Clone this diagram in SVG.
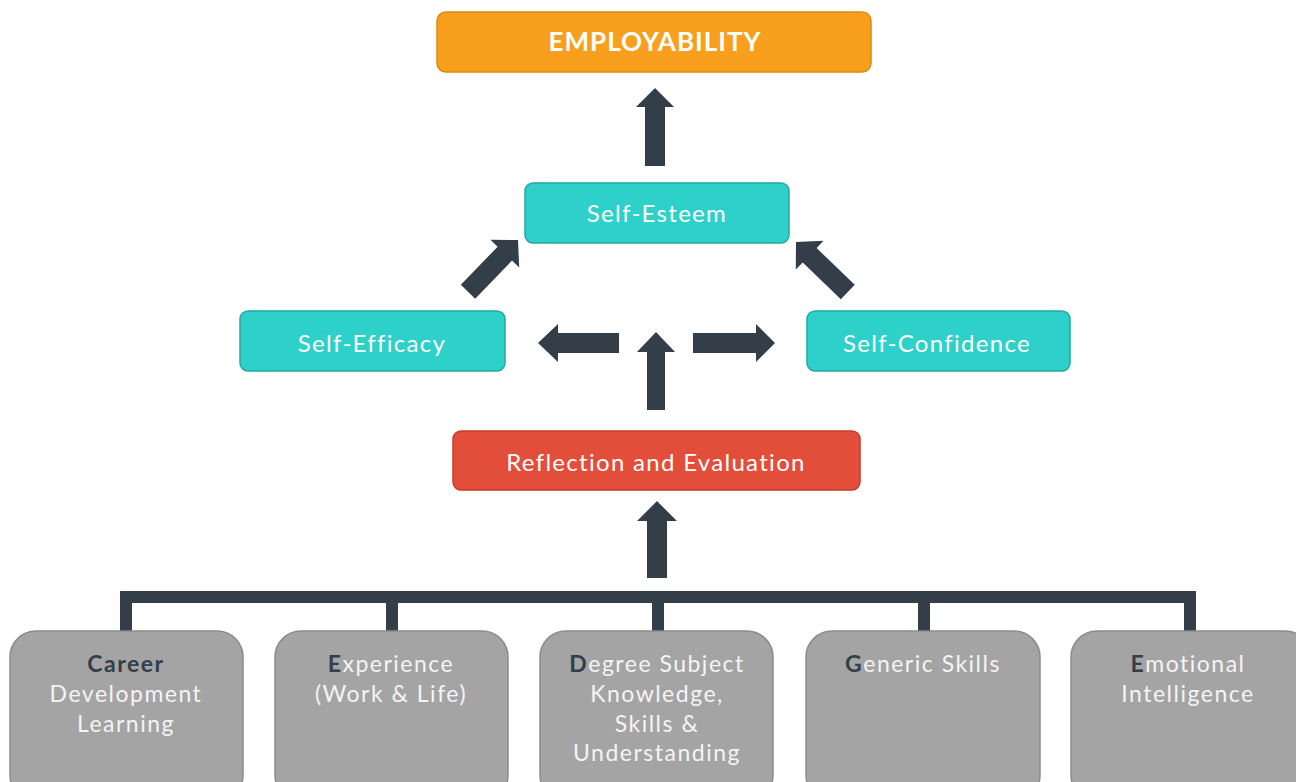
<svg xmlns="http://www.w3.org/2000/svg" width="1296" height="782" viewBox="0 0 1296 782">
<style>
.t{font-family:Lato,"Open Sans","Liberation Sans",sans-serif;fill:#FFFFFF;text-anchor:middle}
.m{font-size:24px;letter-spacing:1.3px}
.s{font-size:23px;letter-spacing:1.5px;fill:#F4F4F4}
.teal{fill:#2DD1C9;stroke:#22A9A2;stroke-width:1.5}
.grey{fill:#A4A4A4;stroke:#8C8C8C;stroke-width:1.5}
.dk{fill:#333E48}
.b{fill:#333E48;font-weight:bold}
</style>
<rect width="1296" height="782" fill="#FFFFFF"/>

<g id="employability">
<rect x="437" y="12" width="434" height="60" rx="9" fill="#F89F1E" stroke="#DC8A12" stroke-width="1.5"/>
<text class="t" x="655" y="51" font-size="26" font-weight="bold" letter-spacing="1">EMPLOYABILITY</text>
</g>

<g id="self-esteem">
<rect class="teal" x="525" y="183" width="264" height="60" rx="8"/>
<text class="t m" x="657" y="222">Self-Esteem</text>
</g>

<g id="self-efficacy">
<rect class="teal" x="240" y="311" width="265" height="60" rx="8"/>
<text class="t m" x="372" y="352">Self-Efficacy</text>
</g>

<g id="self-confidence">
<rect class="teal" x="807" y="311" width="263" height="60" rx="8"/>
<text class="t m" x="937" y="352">Self-Confidence</text>
</g>

<g id="reflection">
<rect x="453" y="431" width="407" height="59" rx="8" fill="#E24E39" stroke="#C43D2B" stroke-width="1.5"/>
<text class="t m" x="656" y="471">Reflection and Evaluation</text>
</g>

<g id="connectors">
<path class="dk" d="M655,88 L674,107 L665,107 L665,166 L645,166 L645,107 L636,107 Z"/>
<path class="dk" d="M0,0 L20,19 L10,19 L10,72 L-10,72 L-10,19 L-20,19 Z" transform="translate(518,240) rotate(44)"/>
<path class="dk" d="M0,0 L20,19 L10,19 L10,72 L-10,72 L-10,19 L-20,19 Z" transform="translate(796,242) rotate(-46)"/>
<path class="dk" d="M656,332 L675,352 L665,352 L665,410 L647,410 L647,352 L637,352 Z"/>
<path class="dk" d="M538,343 L558,324 L558,333 L619,333 L619,353 L558,353 L558,362 Z"/>
<path class="dk" d="M775,343 L756,324 L756,333 L693,333 L693,353 L756,353 L756,362 Z"/>
<path class="dk" d="M657,501 L677,521 L667,521 L667,578 L647,578 L647,521 L637,521 Z"/>
<rect class="dk" x="120" y="591" width="1076" height="12"/>
<rect class="dk" x="120" y="591" width="12" height="40"/>
<rect class="dk" x="386" y="591" width="12" height="40"/>
<rect class="dk" x="652" y="591" width="12" height="40"/>
<rect class="dk" x="918" y="591" width="12" height="40"/>
<rect class="dk" x="1184" y="591" width="12" height="40"/>
</g>

<g id="career">
<rect class="grey" x="10" y="631" width="233" height="170" rx="26"/>
<text class="t s"><tspan x="126" y="672" class="b">Career</tspan><tspan x="126" y="702">Development</tspan><tspan x="126" y="732">Learning</tspan></text>
</g>

<g id="experience">
<rect class="grey" x="275" y="631" width="233" height="170" rx="26"/>
<text class="t s"><tspan x="391" y="672"><tspan class="b">E</tspan>xperience</tspan><tspan x="391" y="702">(Work &amp; Life)</tspan></text>
</g>

<g id="degree">
<rect class="grey" x="540" y="631" width="233" height="170" rx="26"/>
<text class="t s"><tspan x="657" y="672"><tspan class="b">D</tspan>egree Subject</tspan><tspan x="657" y="702">Knowledge,</tspan><tspan x="657" y="732">Skills &amp;</tspan><tspan x="657" y="761">Understanding</tspan></text>
</g>

<g id="generic">
<rect class="grey" x="806" y="631" width="234" height="170" rx="26"/>
<text class="t s"><tspan x="923" y="672"><tspan class="b">G</tspan>eneric Skills</tspan></text>
</g>

<g id="emotional">
<rect class="grey" x="1071" y="631" width="240" height="170" rx="26"/>
<text class="t s"><tspan x="1188" y="672"><tspan class="b">E</tspan>motional</tspan><tspan x="1188" y="702">Intelligence</tspan></text>
</g>
</svg>
